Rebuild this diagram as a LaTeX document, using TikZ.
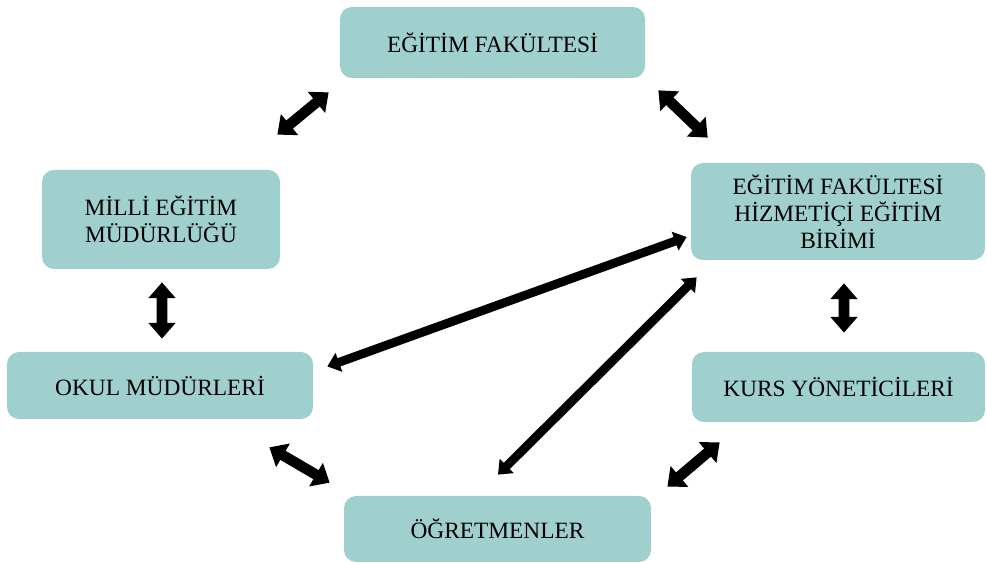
\documentclass[tikz,border=0pt]{standalone}
\usepackage{fontspec}
\setmainfont{Liberation Serif}
\usetikzlibrary{arrows.meta, calc}

\definecolor{boxteal}{HTML}{A0D0CD}

\begin{document}
\begin{tikzpicture}[
    box/.style={fill=boxteal, rounded corners=0.24cm, align=center, inner sep=0pt, font=\fontsize{13.3}{15.2}\selectfont},
    blockarrow/.style={line width=6pt, {Triangle[length=9pt,width=15pt]}-{Triangle[length=9pt,width=15pt]}},
    longarrow/.style={line width=5pt, {Triangle[length=7pt,width=11pt]}-{Triangle[length=7pt,width=11pt]}}
]
    \useasboundingbox (0,0) rectangle (19.74,11.26);

    % Boxes
    \node[box, minimum width=6.1cm, minimum height=1.42cm] (fak) at (9.85,10.41) {EĞİTİM FAKÜLTESİ};
    \node[box, minimum width=4.76cm, minimum height=1.98cm] (meb) at (3.22,6.87) {MİLLİ EĞİTİM\\MÜDÜRLÜĞÜ};
    \node[box, minimum width=5.88cm, minimum height=1.94cm] (birim) at (16.76,7.03) {EĞİTİM FAKÜLTESİ\\HİZMETİÇİ EĞİTİM\\BİRİMİ};
    \node[box, minimum width=6.12cm, minimum height=1.34cm] (okul) at (3.2,3.55) {OKUL MÜDÜRLERİ};
    \node[box, minimum width=5.86cm, minimum height=1.4cm] (kurs) at (16.77,3.52) {KURS YÖNETİCİLERİ};
    \node[box, minimum width=6.14cm, minimum height=1.32cm] (ogrt) at (9.95,0.68) {ÖĞRETMENLER};

    % Short block arrows
    \draw[blockarrow] ($(meb.north east)+(-0.06,0.7)$) -- ($(fak.south west)+(-0.22,-0.28)$);
    \draw[blockarrow] ($(fak.south east)+(0.26,-0.24)$) -- ($(birim.north west)+(0.34,0.5)$);
    \draw[blockarrow] ($(meb.south)+(0.02,-0.26)$) -- ($(okul.north)+(0.04,0.26)$);
    \draw[blockarrow] ($(birim.south)+(0.12,-0.46)$) -- ($(kurs.north)+(0.11,0.38)$);
    \draw[blockarrow] ($(okul.south east)+(-0.88,-0.56)$) -- ($(ogrt.north west)+(-0.28,0.26)$);
    \draw[blockarrow] ($(ogrt.north east)+(0.32,0.18)$) -- ($(kurs.south west)+(0.56,-0.4)$);

    % Long arrows to the unit
    \draw[longarrow] ($(okul.east)+(0.28,0.38)$) -- ($(birim.west)+(-0.08,-0.51)$);
    \draw[longarrow] ($(ogrt.north)+(0.01,0.42)$) -- ($(birim.south west)+(0.12,-0.34)$);

\end{tikzpicture}
\end{document}
